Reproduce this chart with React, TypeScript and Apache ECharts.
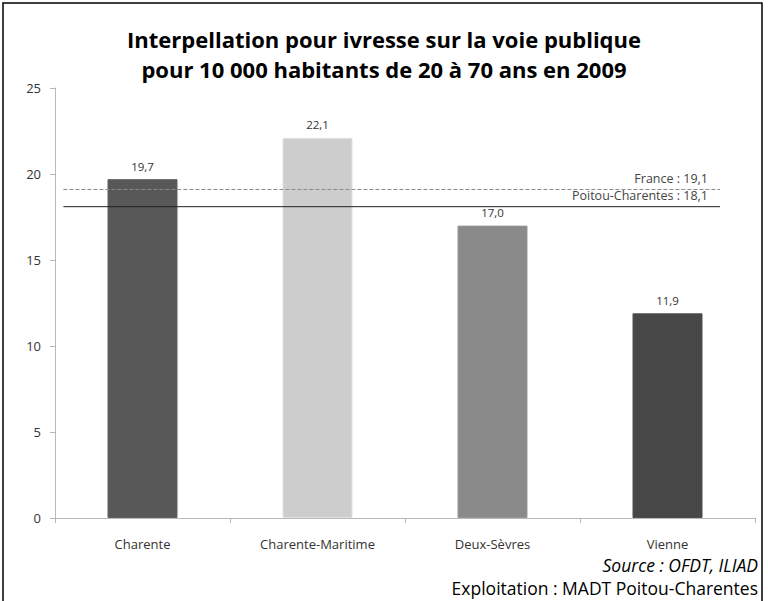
import React, { useEffect, useRef } from "react";
import * as echarts from "echarts";

const categories = ["Charente", "Charente-Maritime", "Deux-Sèvres", "Vienne"];
const values = [19.7, 22.1, 17.0, 11.9];
const barColors = ["#585858", "#cdcdcd", "#8a8a8a", "#474747"];
const yTicks = [0, 5, 10, 15, 20, 25];
const refNames = ["France", "Poitou-Charentes"];
const refValues = [19.1, 18.1];
const titleLines = [
  "Interpellation pour ivresse sur la voie publique",
  "pour 10 000 habitants de 20 à 70 ans en 2009",
];
const sourceText = "Source : OFDT, ILIAD";
const creditText = "Exploitation : MADT Poitou-Charentes";

const fmt = (v: number) => v.toFixed(1).replace(".", ",");

export default function App() {
  const ref = useRef<HTMLDivElement>(null);
  useEffect(() => {
    document.body.style.margin = "0";
    const chart = echarts.init(ref.current!, undefined, { renderer: "svg" });
    const font = "Open Sans, Noto Sans, sans-serif";
    chart.setOption({
      animation: false,
      backgroundColor: "#ffffff",
      textStyle: { fontFamily: font },
      title: {
        text: titleLines.join("\n"),
        left: "center",
        top: 19,
        textStyle: {
          fontFamily: font,
          fontSize: 22,
          fontWeight: "bold",
          color: "#000",
          lineHeight: 30,
        },
      },
      grid: { left: 55, right: 13, top: 88, bottom: 83 },
      xAxis: [
        {
          type: "category",
          data: categories,
          axisLine: { lineStyle: { color: "#b8b8b8" } },
          axisTick: { show: true, length: 5, lineStyle: { color: "#b8b8b8" } },
          axisLabel: { color: "#333", fontSize: 13, margin: 19 },
        },
        {
          type: "value",
          min: 0,
          max: 100,
          show: false,
        },
      ],
      yAxis: {
        type: "value",
        min: 0,
        max: 25,
        interval: 5,
        axisLine: { show: true, lineStyle: { color: "#b8b8b8" } },
        axisTick: { show: true, length: 5, lineStyle: { color: "#b8b8b8" } },
        axisLabel: {
          color: "#333",
          fontSize: 13,
          margin: 14,
          formatter: (v: number) => (yTicks.includes(v) ? String(v) : ""),
        },
        splitLine: { show: false },
      },
      series: [
        {
          type: "bar",
          xAxisIndex: 0,
          barWidth: "40%",
          data: values.map((v, i) => ({
            value: v,
            itemStyle: {
              color: barColors[i],
              borderColor: echarts.color.lift(barColors[i], -0.1),
              borderWidth: 1,
            },
          })),
          label: {
            show: true,
            position: "top",
            distance: 7,
            color: "#333",
            fontSize: 11.5,
            formatter: (p: any) => fmt(p.value),
          },
        },
        ...refValues.map((rv, i) => ({
          type: "line",
          xAxisIndex: 1,
          yAxisIndex: 0,
          symbol: "circle",
          symbolSize: 1,
          showSymbol: true,
          itemStyle: { color: "rgba(0,0,0,0)" },
          lineStyle: {
            color: i === 0 ? "#8a8a8a" : "#222",
            width: 1,
            type: i === 0 ? [4, 2] : "solid",
          },
          data: [
            { value: [1.2, rv], label: { show: false } },
            {
              value: [95, rv],
              label: {
                show: true,
                position: "top",
                align: "right",
                offset: [-12, 1],
                color: "#444",
                fontSize: 12.5,
                formatter: `${refNames[i]} : ${fmt(rv)}`,
              },
            },
          ],
        })),
      ],
      graphic: [
        {
          type: "rect",
          shape: { x: 3, y: 3, width: 759, height: 640 },
          style: { fill: "none", stroke: "#000", lineWidth: 1.5 },
          silent: true,
        },
        {
          type: "text",
          right: 10,
          top: 556,
          style: {
            text: sourceText,
            fontFamily: font,
            fontStyle: "italic",
            fontSize: 17.5,
            fill: "#000",
          },
        },
        {
          type: "text",
          right: 10,
          top: 579,
          style: {
            text: creditText,
            fontFamily: font,
            fontSize: 17.5,
            fill: "#000",
          },
        },
      ],
    });
    return () => chart.dispose();
  }, []);
  return <div ref={ref} style={{ width: 768, height: 601 }} />;
}
